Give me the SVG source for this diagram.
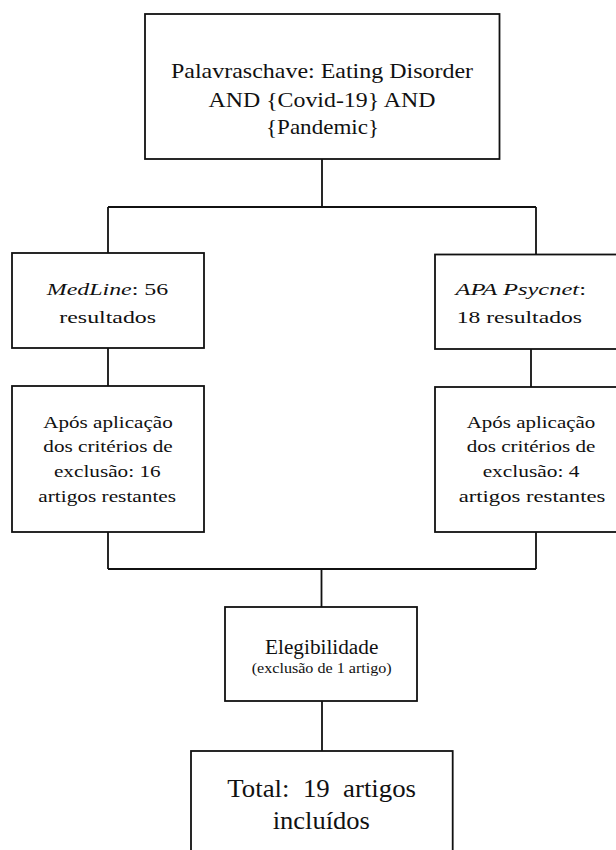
<svg xmlns="http://www.w3.org/2000/svg" width="616" height="850" viewBox="0 0 616 850">
<style>
  .box { fill: #ffffff; stroke: #111111; stroke-width: 1.8; }
  .conn { fill: none; stroke: #111111; stroke-width: 1.8; }
  text { font-family: "Liberation Serif", "Times New Roman", Times, serif; fill: #111111; }
  .mid { text-anchor: middle; }
  .t22 { font-size: 21.7px; }
  .t18 { font-size: 17.7px; }
  .t20 { font-size: 20px; }
  .t14 { font-size: 14px; }
  .t25 { font-size: 25px; }
</style>
<rect width="616" height="850" fill="#ffffff"/>
<g id="connectors">
  <path class="conn" d="M322 159 V207 M108 207 H536 M108 207 V253 M536 207 V254.5"/>
  <path class="conn" d="M108 348 V386 M531 349 V387"/>
  <path class="conn" d="M108 532 V569 M536 532 V569 M108 569 H536 M321.5 569 V607"/>
  <path class="conn" d="M322 701 V751"/>
</g>
<g id="node-keywords">
  <rect class="box" x="145" y="14" width="354.5" height="145"/>
  <text class="t22 mid" x="322" y="78.3" textLength="302" lengthAdjust="spacingAndGlyphs">Palavraschave: Eating Disorder</text>
  <text class="t22 mid" x="322" y="106.5" textLength="227" lengthAdjust="spacingAndGlyphs">AND {Covid-19} AND</text>
  <text class="t22 mid" x="322.5" y="134" textLength="113" lengthAdjust="spacingAndGlyphs">{Pandemic}</text>
</g>
<g id="node-medline">
  <rect class="box" x="12" y="253" width="192" height="95"/>
  <text class="t18 mid" x="107.5" y="295" textLength="121.5" lengthAdjust="spacingAndGlyphs"><tspan font-style="italic">MedLine</tspan>: 56</text>
  <text class="t18 mid" x="107.7" y="323.3" textLength="96.7" lengthAdjust="spacingAndGlyphs">resultados</text>
</g>
<g id="node-apa">
  <rect class="box" x="435" y="254.5" width="190" height="94.5"/>
  <text class="t18" x="455.5" y="295" textLength="130.5" lengthAdjust="spacingAndGlyphs"><tspan font-style="italic">APA Psycnet</tspan>:</text>
  <text class="t18" x="456.7" y="323.3" textLength="125.3" lengthAdjust="spacingAndGlyphs">18 resultados</text>
</g>
<g id="node-medline-excl">
  <rect class="box" x="12" y="386" width="192" height="146"/>
  <text class="t18 mid" x="108" y="427.7" textLength="129.4" lengthAdjust="spacingAndGlyphs">Após aplicação</text>
  <text class="t18 mid" x="108" y="452.3" textLength="129.4" lengthAdjust="spacingAndGlyphs">dos critérios de</text>
  <text class="t18 mid" x="107.3" y="477.3" textLength="106.7" lengthAdjust="spacingAndGlyphs">exclusão: 16</text>
  <text class="t18 mid" x="107.2" y="501.7" textLength="137.7" lengthAdjust="spacingAndGlyphs">artigos restantes</text>
</g>
<g id="node-apa-excl">
  <rect class="box" x="435" y="387" width="190" height="145"/>
  <text class="t18 mid" x="531" y="427.7" textLength="128.6" lengthAdjust="spacingAndGlyphs">Após aplicação</text>
  <text class="t18 mid" x="531" y="452.3" textLength="128.6" lengthAdjust="spacingAndGlyphs">dos critérios de</text>
  <text class="t18 mid" x="531" y="477.3" textLength="96.7" lengthAdjust="spacingAndGlyphs">exclusão: 4</text>
  <text class="t18 mid" x="532" y="501.7" textLength="146.7" lengthAdjust="spacingAndGlyphs">artigos restantes</text>
</g>
<g id="node-elegibilidade">
  <rect class="box" x="225" y="607" width="192" height="94"/>
  <text class="t20 mid" x="321.7" y="654" textLength="113.3" lengthAdjust="spacingAndGlyphs">Elegibilidade</text>
  <text class="t14 mid" x="321.7" y="672.7" textLength="140" lengthAdjust="spacingAndGlyphs">(exclusão de 1 artigo)</text>
</g>
<g id="node-total">
  <rect class="box" x="191" y="751" width="261.7" height="110"/>
  <text class="t25 mid" x="321.7" y="797.3" textLength="188.7" lengthAdjust="spacingAndGlyphs" xml:space="preserve">Total:  19  artigos</text>
  <text class="t25 mid" x="321.3" y="829.3" textLength="97.3" lengthAdjust="spacingAndGlyphs">incluídos</text>
</g>
</svg>
